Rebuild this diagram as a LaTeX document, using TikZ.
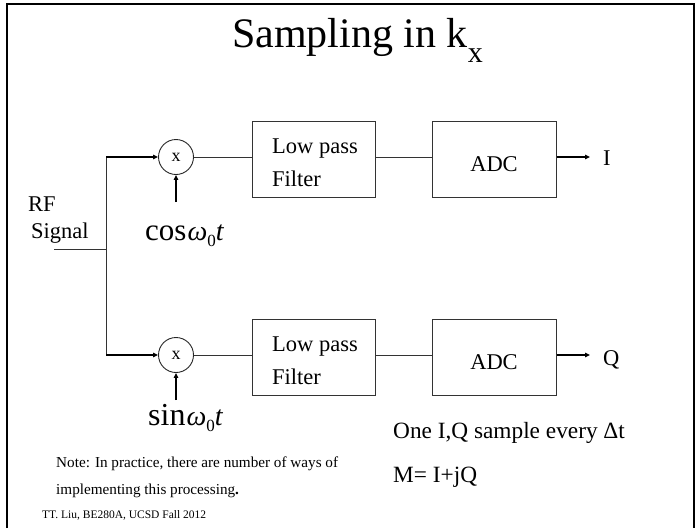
\documentclass[tikz,border=0pt]{standalone}
\usepackage{fontspec}
\setmainfont{Liberation Serif}
\usetikzlibrary{arrows.meta,calc}
\begin{document}
\begin{tikzpicture}[x=1pt,y=-1pt,
  conn/.style={line width=0.9pt,draw=black!80},
  arr/.style={line width=1.3pt,-{Triangle[length=5pt,width=4.5pt]}},
  blk/.style={draw=black!80,line width=1pt,rectangle,inner sep=0},
  mix/.style={draw=black!85,line width=0.9pt,circle,minimum size=35pt,inner sep=0,font=\fontsize{18}{20}\selectfont},
  txt/.style={inner sep=0,anchor=base west},
]
\useasboundingbox (0,0) rectangle (698,528);
% frame
\draw[line width=1.4pt] (7,528) -- (7,4) -- (694,4) -- (694,528);
% title
\node[inner sep=0,anchor=base west] (title) at (232,47) {\fontsize{42}{48}\selectfont Sampling in k\raisebox{-15pt}{\fontsize{30}{32}\selectfont x}};
% RF signal
\node[txt] (rf) at (28,211) {\fontsize{22.5}{26}\selectfont RF};
\node[txt] (sig) at (31,238) {\fontsize{22.5}{26}\selectfont Signal};
\coordinate (rfin) at (54,249);
\coordinate (split) at (106,249);
\coordinate (top) at (106,157);
\coordinate (bot) at (106,355);
% mixers
\node[mix] (m1) at (176,157) {x};
\node[mix] (m2) at (176,355) {x};
% blocks
\node[blk,minimum width=123pt,minimum height=76pt] (lpf1) at (313.5,159) {};
\node[blk,minimum width=123pt,minimum height=76pt] (lpf2) at (313.5,357) {};
\node[blk,minimum width=124pt,minimum height=76pt] (adc1) at (494,159) {};
\node[blk,minimum width=124pt,minimum height=76pt] (adc2) at (494,357) {};
\node[txt] (lpf1t) at (272,153) {\fontsize{22.5}{26}\selectfont Low pass};
\node[txt] (lpf1u) at (272,186) {\fontsize{22.5}{26}\selectfont Filter};
\node[txt] (lpf2t) at (272,351) {\fontsize{22.5}{26}\selectfont Low pass};
\node[txt] (lpf2u) at (272,384) {\fontsize{22.5}{26}\selectfont Filter};
\node[inner sep=0,anchor=base] (adc1t) at (494,171) {\fontsize{22.5}{26}\selectfont ADC};
\node[inner sep=0,anchor=base] (adc2t) at (494,369) {\fontsize{22.5}{26}\selectfont ADC};
% outputs
\coordinate (o1) at (590,157);
\coordinate (o2) at (590,355);
\node[txt] (I) at (603,165) {\fontsize{22.5}{26}\selectfont I};
\node[txt] (Q) at (603,365) {\fontsize{22.5}{26}\selectfont Q};
% LO inputs
\coordinate (lo1) at (176,202);
\coordinate (lo2) at (176,400);
\node[txt] (cos) at (145,240) {\fontsize{31}{34}\selectfont cos\hspace{1pt}{\fontsize{28}{32}\selectfont\itshape ω}\raisebox{-6pt}{\fontsize{17}{18}\selectfont 0}{\fontsize{28}{32}\selectfont\itshape t}};
\node[txt] (sin) at (148,425) {\fontsize{32}{36}\selectfont sin\hspace{1pt}{\fontsize{28}{32}\selectfont\itshape ω}\raisebox{-6pt}{\fontsize{17}{18}\selectfont 0}{\fontsize{28}{32}\selectfont\itshape t}};
% connectors
\draw[conn] (rfin) -- (split);
\draw[conn] (top) -- (bot);
\draw[arr] (top) -- (m1.west);
\draw[arr] (bot) -- (m2.west);
\draw[arr] (lo1) -- (m1.south);
\draw[arr] (lo2) -- (m2.south);
\draw[conn] (m1.east) -- (m1.east -| lpf1.west);
\draw[conn] (m2.east) -- (m2.east -| lpf2.west);
\draw[conn] (m1 -| lpf1.east) -- (m1 -| adc1.west);
\draw[conn] (m2 -| lpf2.east) -- (m2 -| adc2.west);
\draw[arr] (m1 -| adc1.east) -- (o1);
\draw[arr] (m2 -| adc2.east) -- (o2);
% texts
\node[txt] (one) at (393,438) {\fontsize{23.3}{26}\selectfont One I,Q sample every Δt};
\node[txt] (meq) at (393,482) {\fontsize{23.3}{26}\selectfont M= I+jQ};
\node[txt] (note1) at (56,467) {\fontsize{15.2}{17}\selectfont Note: In practice, there are number of ways of};
\node[txt] (note2) at (56,494) {\fontsize{15.2}{17}\selectfont implementing this processing\textbf{.}};
\node[txt] (foot) at (42,518) {\fontsize{11.5}{13}\selectfont TT. Liu, BE280A, UCSD Fall 2012};
\end{tikzpicture}
\end{document}
